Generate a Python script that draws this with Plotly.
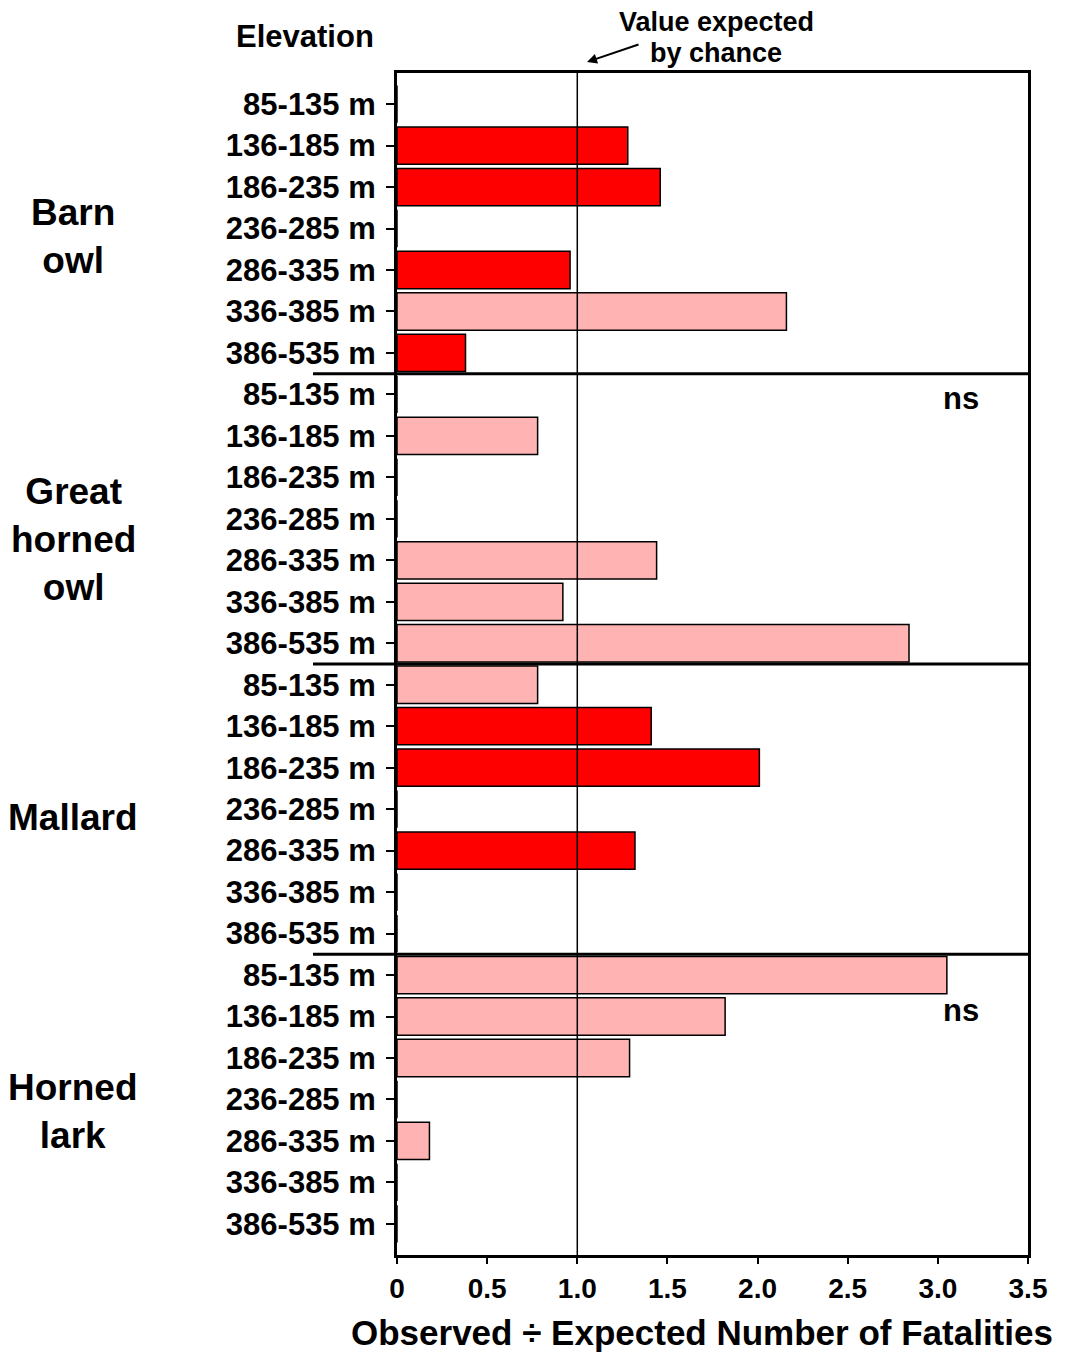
import plotly.graph_objects as go

# data
groups = ["Barn<br>owl", "Great<br>horned<br>owl", "Mallard", "Horned<br>lark"]
elevations = ["85-135 m", "136-185 m", "186-235 m", "236-285 m",
              "286-335 m", "336-385 m", "386-535 m"]

barn_owl = [0, 1.28, 1.46, 0, 0.96, 2.16, 0.38]
barn_owl_sig = [False, True, True, False, True, False, True]
great_horned_owl = [0, 0.78, 0, 0, 1.44, 0.92, 2.84]
great_horned_owl_sig = [False] * 7
mallard = [0.78, 1.41, 2.01, 0, 1.32, 0, 0]
mallard_sig = [False, True, True, False, True, False, False]
horned_lark = [3.05, 1.82, 1.29, 0, 0.18, 0, 0]
horned_lark_sig = [False] * 7

group_label_rows = [3.2, 10.5, 17.2, 24.3]
ns_rows = [7.1, 21.85]

values = barn_owl + great_horned_owl + mallard + horned_lark
sig = barn_owl_sig + great_horned_owl_sig + mallard_sig + horned_lark_sig
labels = elevations * len(groups)
rows = list(range(len(values)))

RED = "#FF0000"
PINK = "#FFB3B3"
FONT = "Liberation Sans, Arial, sans-serif"

# page body has an 8px margin, so the plot box is shifted by that amount
L, T, R, B = 389, 65, 1020, 1247
PW, PH = R - L, B - T

fig = go.Figure()
fig.add_trace(go.Bar(
    x=values, y=rows, orientation="h",
    marker=dict(color=[RED if s else PINK for s in sig],
                line=dict(color="black", width=1.5)),
    width=0.9, showlegend=False, hoverinfo="x",
))

# vertical line at the value expected by chance
fig.add_shape(type="line", xref="x", yref="paper", x0=1, x1=1, y0=0, y1=1,
              line=dict(color="black", width=1.5), layer="above")

# separators between species
for k in range(1, len(groups)):
    yy = k * len(elevations) - 0.5
    fig.add_shape(type="line", xref="paper", yref="y", x0=-84 / PW, x1=1,
                  y0=yy, y1=yy, line=dict(color="black", width=3), layer="above")

for g, gy in zip(groups, group_label_rows):
    fig.add_annotation(text=f"<b>{g}</b>", xref="paper", yref="y", x=-324 / PW, y=gy,
                       showarrow=False, xanchor="center", yanchor="middle",
                       font=dict(family=FONT, size=37, color="black"))

for ny in ns_rows:
    fig.add_annotation(text="<b>ns</b>", xref="x", yref="y", x=3.13, y=ny,
                       showarrow=False, xanchor="center", yanchor="middle",
                       font=dict(family=FONT, size=31, color="black"))

fig.add_annotation(text="<b>Elevation</b>", xref="paper", yref="paper",
                   x=-92 / PW, y=1 + 36 / PH, showarrow=False,
                   xanchor="center", yanchor="middle",
                   font=dict(family=FONT, size=31, color="black"))

for txt, py in [("Value expected", 22), ("by chance", 53)]:
    fig.add_annotation(text=f"<b>{txt}</b>", xref="paper", yref="paper",
                       x=319 / PW, y=1 + (73 - py) / PH, showarrow=False,
                       xanchor="center", yanchor="middle",
                       font=dict(family=FONT, size=27, color="black"))
fig.add_annotation(text="", xref="x", yref="paper", x=1.054, y=1 + 11 / PH,
                   showarrow=True, arrowhead=2, arrowsize=1, arrowwidth=2,
                   arrowcolor="black", ax=53, ay=-18)

# x-axis title, placed as text so it can sit off-centre like the original
fig.add_annotation(text="<b>Observed ÷ Expected Number of Fatalities</b>",
                   xref="paper", yref="paper", x=(702 - 397) / PW, y=-(1332 - 1255) / PH,
                   showarrow=False, xanchor="center", yanchor="middle",
                   font=dict(family=FONT, size=35, color="black"))

fig.update_layout(
    width=1068, height=1352,
    margin=dict(l=L, r=1068 - R, t=T, b=1352 - B),
    plot_bgcolor="white", paper_bgcolor="white",
    bargap=0.1,
    font=dict(family=FONT, color="black"),
)
fig.update_xaxes(
    range=[0, 3.5], tickvals=[0, 0.5, 1, 1.5, 2, 2.5, 3, 3.5],
    ticktext=["0", "0.5", "1.0", "1.5", "2.0", "2.5", "3.0", "3.5"],
    ticks="outside", ticklen=6, tickwidth=1.5, tickcolor="black",
    tickfont=dict(family=FONT, size=28, weight="bold"),
    showline=True, linewidth=3, linecolor="black", mirror=True,
    showgrid=False, zeroline=False,
)
fig.update_yaxes(
    range=[len(values) - 0.25, -0.75], tickvals=rows, ticktext=labels,
    ticks="outside", ticklen=8, tickwidth=1.5, tickcolor="black",
    tickfont=dict(family=FONT, size=31, weight="bold"), ticklabelstandoff=4,
    showline=True, linewidth=3, linecolor="black", mirror=True,
    showgrid=False, zeroline=False,
)

fig.write_html("out.html")
